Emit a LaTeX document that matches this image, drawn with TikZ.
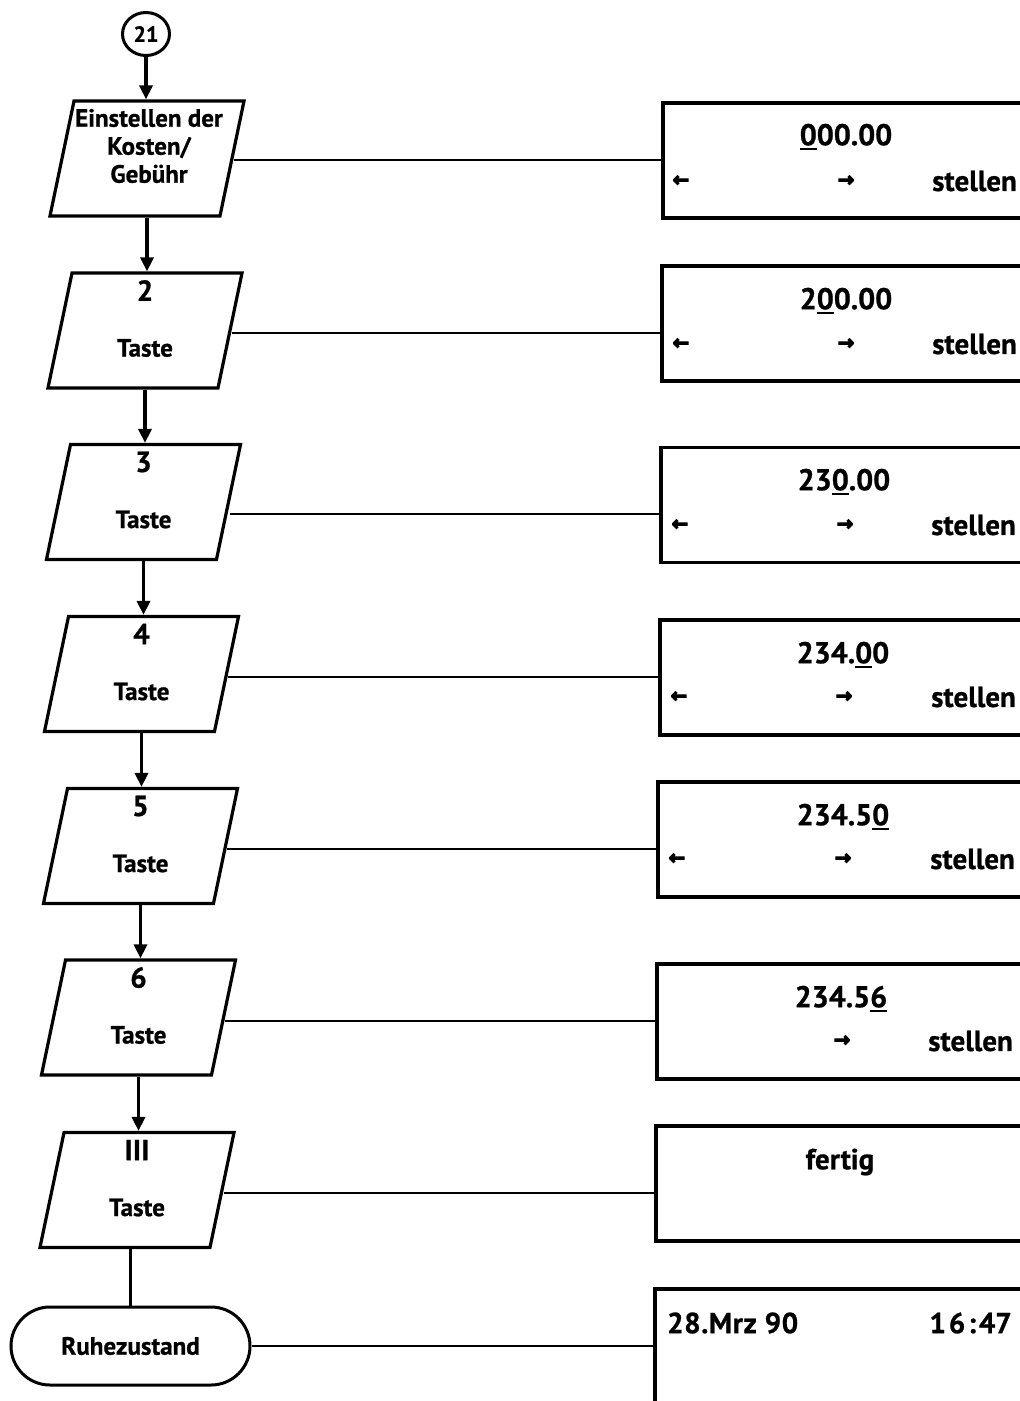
\documentclass[tikz,border=0pt]{standalone}
\usepackage{fontspec}
\setmainfont{PT Sans}[BoldFeatures={FakeBold=0.8}]
\newfontfamily\arrowfont{DejaVu Sans}[BoldFeatures={FakeBold=5}]
\usetikzlibrary{shapes.geometric,shapes.misc,arrows.meta}
\newcommand\udig[1]{\setbox0=\hbox{#1}\rlap{\rule[-5pt]{\wd0}{2.6pt}}\box0\relax}
\newcommand\iobox[2]{\begin{scope}[shift={(#2)}]\node[io] (#1) at (0,0) {};\end{scope}}
\begin{document}
\begin{tikzpicture}[x=1pt,y=-1pt,
  io/.style={rectangle, draw, line width=3.2pt, transform shape, xslant=0.209,
    minimum width=170pt, minimum height=115pt, inner sep=0pt},
  disp/.style={draw, line width=3.2pt, minimum width=377pt, minimum height=115pt, inner sep=0pt},
  conn/.style={ellipse, draw, line width=3pt, minimum width=47pt, minimum height=43pt, inner sep=0pt,
    font=\fontsize{22}{24}\selectfont\bfseries},
  term/.style={rounded rectangle, draw, line width=3pt, minimum width=239pt, minimum height=78pt,
    inner sep=0pt, font=\fontsize{25}{27}\selectfont\bfseries},
  lbl/.style={inner sep=0pt, font=\fontsize{25}{28}\selectfont\bfseries},
  key/.style={inner sep=0pt, font=\fontsize{29}{31}\selectfont\bfseries},
  num/.style={inner sep=0pt, font=\fontsize{30}{32}\selectfont\bfseries},
  word/.style={inner sep=0pt, font=\fontsize{29}{31}\selectfont\bfseries},
  arr/.style={inner sep=0pt, font=\arrowfont\fontsize{20}{22}\selectfont\bfseries},
  flow/.style={line width=3.2pt, -{Triangle[width=13pt,length=14pt]}},
  link/.style={line width=2.4pt}
]
\useasboundingbox (0,0) rectangle (1020,1401);
\clip (0,0) rectangle (1020,1401);

% left column
\node[conn] (c21) at (146,34) {21};
\iobox{p1}{147,158.5}
\iobox{p2}{145,330.5}
\iobox{p3}{143.5,502}
\iobox{p4}{141.5,674}
\iobox{p5}{140.5,846}
\iobox{p6}{138.5,1017.5}
\iobox{p7}{137,1190}
\node[term] (ruhe) at (130.5,1346) {Ruhezustand};

\node[lbl, align=center] (p1t) at (149,146) {Einstellen der\\Kosten/\\Gebühr};
\node[key] (p2d) at ([yshift=40pt]p2.center) {2};
\node[lbl] (p2t) at ([yshift=-17.5pt]p2.center) {Taste};
\node[key] (p3d) at ([yshift=40pt]p3.center) {3};
\node[lbl] (p3t) at ([yshift=-17.5pt]p3.center) {Taste};
\node[key] (p4d) at ([yshift=40pt]p4.center) {4};
\node[lbl] (p4t) at ([yshift=-17.5pt]p4.center) {Taste};
\node[key] (p5d) at ([yshift=40pt]p5.center) {5};
\node[lbl] (p5t) at ([yshift=-17.5pt]p5.center) {Taste};
\node[key] (p6d) at ([yshift=40pt]p6.center) {6};
\node[lbl] (p6t) at ([yshift=-17.5pt]p6.center) {Taste};
\node[key] (p7d) at ([yshift=40pt]p7.center) {III};
\node[lbl] (p7t) at ([yshift=-17.5pt]p7.center) {Taste};

% vertical flow
\draw[flow] (c21.south) -- (c21.south |- p1.north);
\draw[flow] (p1.center |- p1.south) -- (p1.center |- p2.north);
\draw[flow] (p2.center |- p2.south) -- (p2.center |- p3.north);
\draw[flow] (p3.center |- p3.south) -- (p3.center |- p4.north);
\draw[flow] (p4.center |- p4.south) -- (p4.center |- p5.north);
\draw[flow] (p5.center |- p5.south) -- (p5.center |- p6.north);
\draw[flow] (p6.center |- p6.south) -- (p6.center |- p7.north);
\draw[line width=3.2pt] (ruhe.north) -- (ruhe.north |- p7.south);

% display boxes
\node[disp] (b1) at (851.5,160.5) {};
\node[disp] (b2) at (850.5,323.5) {};
\node[disp] (b3) at (849.5,505) {};
\node[disp] (b4) at (848.5,677.5) {};
\node[disp] (b5) at (846.5,839.5) {};
\node[disp] (b6) at (845.5,1021.5) {};
\node[disp] (b7) at (844.5,1183.5) {};
\node[disp, minimum height=131pt] (b8) at (843.5,1354.5) {};

% connectors
\draw[link] ([yshift=-1.5pt]p1.east) -- ([yshift=-1.5pt]p1.east -| b1.west);
\draw[link] ([yshift=-2.5pt]p2.east) -- ([yshift=-2.5pt]p2.east -| b2.west);
\draw[link] ([yshift=-12pt]p3.east) -- ([yshift=-12pt]p3.east -| b3.west);
\draw[link] ([yshift=-3pt]p4.east) -- ([yshift=-3pt]p4.east -| b4.west);
\draw[link] ([yshift=-3pt]p5.east) -- ([yshift=-3pt]p5.east -| b5.west);
\draw[link] ([yshift=-3.5pt]p6.east) -- ([yshift=-3.5pt]p6.east -| b6.west);
\draw[link] ([yshift=-3pt]p7.east) -- ([yshift=-3pt]p7.east -| b7.west);
\draw[link] (ruhe.east) -- (ruhe.east -| b8.west);

% display texts
\node[num] (t1) at (846,137) {\udig{0}00.00};
\node[arr] (l1) at (681,181) {←};
\node[arr] (r1) at (846,181) {→};
\node[word, anchor=east] (s1) at (1017,181) {stellen};

\node[num] (t2) at (846,301) {2\udig{0}0.00};
\node[arr] (l2) at (681,344) {←};
\node[arr] (r2) at (846,344) {→};
\node[word, anchor=east] (s2) at (1017,344) {stellen};

\node[num] (t3) at (844,482) {23\udig{0}.00};
\node[arr] (l3) at (680,525) {←};
\node[arr] (r3) at (845,525) {→};
\node[word, anchor=east] (s3) at (1016,525) {stellen};

\node[num] (t4) at (843,655) {234.\udig{0}0};
\node[arr] (l4) at (679,697) {←};
\node[arr] (r4) at (844,697) {→};
\node[word, anchor=east] (s4) at (1016,697) {stellen};

\node[num] (t5) at (843,817) {234.5\udig{0}};
\node[arr] (l5) at (677,859) {←};
\node[arr] (r5) at (843,859) {→};
\node[word, anchor=east] (s5) at (1015,859) {stellen};

\node[num] (t6) at (841,999) {234.5\udig{6}};
\node[arr] (r6) at (842,1041) {→};
\node[word, anchor=east] (s6) at (1013,1041) {stellen};

\node[word] (t7) at (840,1162) {fertig};

\node[word, anchor=west] (d8) at (667,1323) {\addfontfeature{LetterSpace=2}28.Mrz 90};
\node[word, anchor=east] (h8) at (1012,1323) {\addfontfeature{LetterSpace=10}16:4\kern0pt 7};
\end{tikzpicture}
\end{document}
